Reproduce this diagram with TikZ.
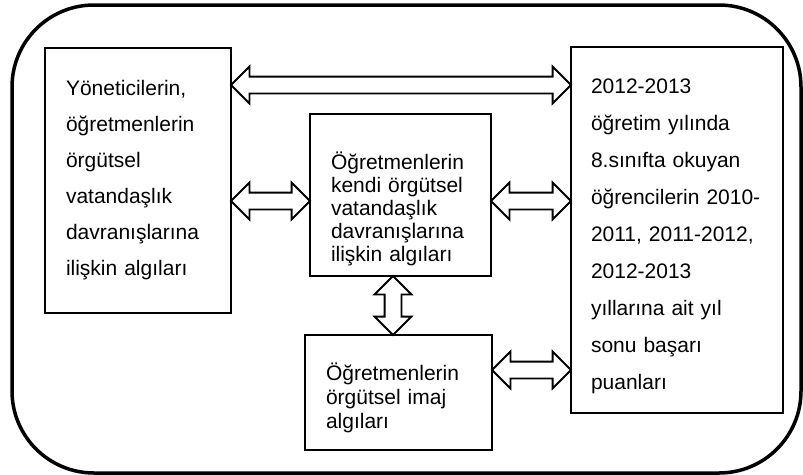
\documentclass[tikz,border=0pt]{standalone}
\usepackage{fontspec}
\setmainfont{Liberation Sans}
\usetikzlibrary{shapes.arrows,calc}

\tikzset{
  kutu/.style={draw, line width=2pt, anchor=north west, inner xsep=21pt, inner ysep=0pt, align=left},
  okcift/.style={draw, line width=1.8pt, double arrow, inner xsep=0pt, inner ysep=7.5pt,
    double arrow head extend=10pt, minimum height=#1},
}

\begin{document}
\begin{tikzpicture}[x=1pt,y=-1pt]
        \useasboundingbox (0,0) rectangle (803,474);
        \draw[line width=3.5pt, rounded corners=82pt] (12,5) rectangle (801,473);
        % kutular
        \node[kutu, minimum width=186pt, minimum height=265pt, text width=144pt, font=\fontsize{21}{36}\selectfont] (yon) at (44,47)
          {Yöneticilerin,\\öğretmenlerin\\örgütsel\\vatandaşlık\\davranışlarına\\ilişkin algıları};
        \node[kutu, minimum width=181pt, minimum height=162pt, text width=139pt, font=\fontsize{21}{23}\selectfont] (kendi) at (309,113)
          {\rule{0pt}{46pt}Öğretmenlerin\\\makebox[138pt][s]{kendi örgütsel}\\vatandaşlık\\davranışlarına\\ilişkin algıları};
        \node[kutu, minimum width=187pt, minimum height=115pt, text width=145pt, font=\fontsize{21}{24}\selectfont] (imaj) at (304,334)
          {\rule{0pt}{29pt}Öğretmenlerin\\örgütsel imaj\\algıları};
        \node[kutu, minimum width=212pt, minimum height=366pt, text width=172pt, inner xsep=20pt, font=\fontsize{21}{37}\selectfont] (puan) at (570,46)
          {\rule{0pt}{27pt}2012-2013\\öğretim yılında\\8.sınıfta okuyan\\öğrencilerin 2010-\\2011, 2011-2012,\\2012-2013\\yıllarına ait yıl\\sonu başarı\\puanları};
        % oklar
        \node[okcift=340pt] (ok1) at ($(yon.east |- 0,85)!.5!(puan.west |- 0,85)$) {};
        \node[okcift=79pt] (ok2) at ($(yon.east |- 0,201)!.5!(kendi.west |- 0,201)$) {};
        \node[okcift=80pt] (ok3) at ($(kendi.east |- 0,201)!.5!(puan.west |- 0,201)$) {};
        \node[okcift=59pt, rotate=90] (ok4) at ($(kendi.south -| 393,0)!.5!(imaj.north -| 393,0)$) {};
        \node[okcift=79pt] (ok5) at ($(imaj.east |- 0,370)!.5!(puan.west |- 0,370)$) {};
\end{tikzpicture}
\end{document}
